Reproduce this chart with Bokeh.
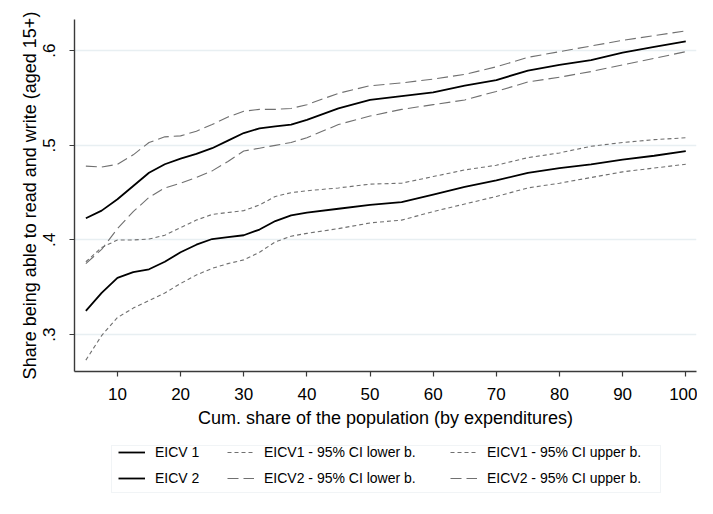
from bokeh.plotting import figure
from bokeh.layouts import column
from bokeh.models import Legend, LegendItem, FixedTicker
from bokeh.embed import file_html
from bokeh.resources import INLINE

FONT = "Liberation Sans"

x = [5, 7.5, 10, 12.5, 15, 17.5, 20, 22.5, 25, 27.5, 30, 32.5, 35, 37.5, 40,
     45, 50, 55, 60, 65, 70, 75, 80, 85, 90, 95, 100]

eicv1 = [.325, .344, .360, .366, .369, .377, .387, .395, .401, .403, .405, .411, .420, .426, .429,
         .433, .437, .440, .448, .456, .463, .471, .476, .480, .485, .489, .494]
eicv1_lo = [.273, .299, .318, .328, .336, .344, .354, .363, .370, .375, .379, .387, .398, .404, .407,
            .412, .418, .421, .430, .438, .446, .455, .460, .466, .472, .476, .480]
eicv1_hi = [.377, .392, .400, .400, .401, .405, .413, .421, .427, .429, .431, .437, .446, .450, .452,
            .455, .459, .460, .467, .474, .479, .487, .492, .499, .503, .506, .508]

eicv2 = [.423, .431, .443, .457, .471, .480, .486, .491, .497, .505, .513, .518, .520, .522, .527,
         .539, .548, .552, .556, .563, .569, .579, .585, .590, .598, .604, .610]
eicv2_lo = [.375, .390, .412, .430, .445, .455, .460, .466, .473, .483, .494, .497, .500, .503, .508,
            .522, .531, .538, .543, .548, .557, .567, .572, .578, .585, .592, .599]
eicv2_hi = [.478, .477, .480, .490, .503, .509, .510, .515, .522, .530, .536, .538, .538, .539, .543,
            .555, .563, .566, .570, .575, .583, .593, .599, .605, .611, .616, .621]

x_ticks = [10, 20, 30, 40, 50, 60, 70, 80, 90, 100]
y_ticks = [0.3, 0.4, 0.5, 0.6]
y_tick_labels = [".3", ".4", ".5", ".6"]

labels = ["EICV 1", "EICV1 - 95% CI lower b.", "EICV1 - 95% CI upper b.",
          "EICV 2", "EICV2 - 95% CI lower b.", "EICV2 - 95% CI upper b."]

solid_col = "black"
ci_col = "#707070"
styles = [dict(line_color=solid_col, line_width=1.8),
          dict(line_color=ci_col, line_width=1.1, line_dash="4 3"),
          dict(line_color=ci_col, line_width=1.1, line_dash="4 3"),
          dict(line_color=solid_col, line_width=1.8),
          dict(line_color=ci_col, line_width=1.1, line_dash="11 5"),
          dict(line_color=ci_col, line_width=1.1, line_dash="11 5")]
series = [eicv1, eicv1_lo, eicv1_hi, eicv2, eicv2_lo, eicv2_hi]

# ---------------- main plot ----------------
p = figure(width=697, height=430, output_backend="svg", toolbar_location=None,
           x_range=(3.2, 101.7), y_range=(0.261, 0.633),
           min_border_left=74, min_border_right=1, min_border_top=19, min_border_bottom=53)
p.outline_line_color = None
p.background_fill_color = "white"
p.border_fill_color = "white"

for ys, st in zip(series, styles):
    p.line(x, ys, **st)

p.xaxis.ticker = FixedTicker(ticks=x_ticks)
p.yaxis.ticker = FixedTicker(ticks=y_ticks)
p.yaxis.major_label_overrides = {t: l for t, l in zip(y_ticks, y_tick_labels)}
p.yaxis.major_label_orientation = "vertical"

for ax in (p.xaxis[0], p.yaxis[0]):
    ax.axis_line_color = "#3a3a3a"
    ax.axis_line_width = 1.4
    ax.major_tick_line_color = "#3a3a3a"
    ax.major_tick_line_width = 1.2
    ax.major_tick_out = 5
    ax.major_tick_in = 0
    ax.minor_tick_line_color = None
    ax.major_label_text_font = FONT
    ax.major_label_text_font_size = "17px"
    ax.major_label_text_color = "black"
    ax.axis_label_text_font = FONT
    ax.axis_label_text_font_size = "18px"
    ax.axis_label_text_font_style = "normal"
    ax.axis_label_text_color = "black"

p.xaxis.axis_label = "Cum. share of the population (by expenditures)"
p.yaxis.axis_label = "Share being able to read and write (aged 15+)"
p.xaxis.major_label_standoff = 11
p.xaxis.axis_label_standoff = 5
p.yaxis.major_label_standoff = 14
p.yaxis.axis_label_standoff = 1

p.xgrid.grid_line_color = None
p.ygrid.grid_line_color = "#e8eff2"
p.ygrid.grid_line_width = 1.3

# ---------------- legend strip ----------------
q = figure(width=697, height=68, output_backend="svg", toolbar_location=None,
           min_border=0, x_axis_location=None, y_axis_location=None)
q.outline_line_color = None
q.grid.grid_line_color = None
q.background_fill_color = "white"
q.border_fill_color = "white"

# single-point proxies (draw nothing themselves) that give the legend its line styles
proxies = [q.line(x[:1], ys[:1], **st) for ys, st in zip(series, styles)]
dummy = q.line(x[:1], eicv1[:1], line_alpha=0)

# the legend strip's frame is aligned with the main plot frame (left edge at 74px)
box = Legend(items=[LegendItem(label=" ", renderers=[dummy])],
             location=(36.7, 5), orientation="vertical",
             glyph_width=1, glyph_height=46, label_width=547, label_height=46,
             label_standoff=0, padding=0, margin=0, spacing=0,
             label_text_font_size="1px",
             border_line_color="#e3eaee", border_line_width=1.2,
             background_fill_color="white", background_fill_alpha=1.0)
q.add_layout(box, "center")

col_x = [44, 153, 376]
for c in range(3):
    its = [LegendItem(label=labels[c], renderers=[proxies[c]]),
           LegendItem(label=labels[c + 3], renderers=[proxies[c + 3]])]
    lg = Legend(items=its, orientation="vertical", location=(col_x[c], 10.3),
                label_text_font=FONT, label_text_font_size="14px",
                label_text_color="black",
                glyph_width=27, glyph_height=20, label_height=20,
                label_standoff=10, spacing=6, padding=0, margin=0,
                border_line_color=None, background_fill_alpha=0.0)
    q.add_layout(lg, "center")

layout = column(p, q, spacing=0)
open("out.html", "w").write(file_html(layout, INLINE))
